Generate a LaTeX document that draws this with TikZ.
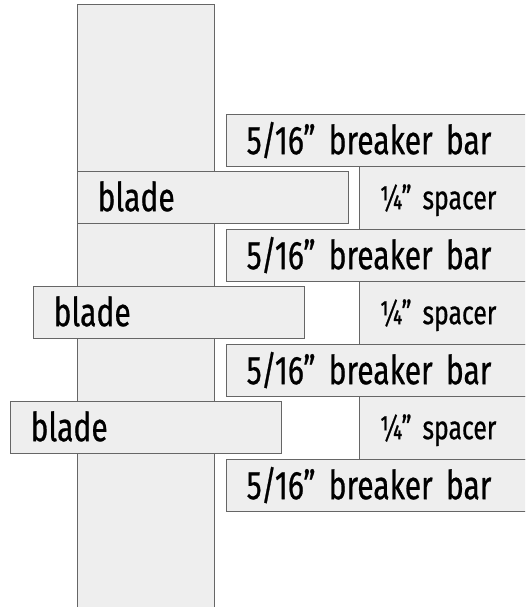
\documentclass[tikz,border=0pt]{standalone}
\usepackage{fontspec}
\setmainfont{Fira Sans}[FakeStretch=0.75, FakeBold=0.6, WordSpace=0.75]
\usepackage{tikz}
\definecolor{partfill}{HTML}{EEEEEE}
\definecolor{partline}{HTML}{666666}

\begin{document}
\begin{tikzpicture}[
  x=1pt, y=-1pt,
  part/.style  ={draw=partline, fill=partfill, line width=1.3pt, anchor=north west,
                 inner xsep=20pt, inner ysep=0pt, align=left, text depth=0pt},
  post/.style  ={part, minimum width=137pt, minimum height=612pt},
  bar/.style   ={part, font=\fontsize{40}{48}\selectfont, text height=27pt,
                 minimum height=52pt, text width=300pt},
  blade/.style ={part, font=\fontsize{40}{48}\selectfont, text height=27pt,
                 minimum height=52pt, text width=231pt},
  spacer/.style={part, font=\fontsize{33}{40}\selectfont, text height=22pt,
                 minimum height=63pt, text width=150pt}
]
\clip (0,0) rectangle (525,607);
\node[post] (post) at (77,4) {};
% spacers sit between the breaker bars
\node[spacer] (sp1) at (359,166) {¼” spacer};
\node[spacer] (sp2) at (359,281) {¼” spacer};
\node[spacer] (sp3) at (359,396) {¼” spacer};
\node[bar] (bar1) at (226,114) {5/16” breaker bar};
\node[bar] (bar2) at (226,229) {5/16” breaker bar};
\node[bar] (bar3) at (226,344) {5/16” breaker bar};
\node[bar] (bar4) at (226,459) {5/16” breaker bar};
% blades, each shifted further left
\node[blade] (blade1) at (77,171) {blade};
\node[blade] (blade2) at (33,286) {blade};
\node[blade] (blade3) at (10,401) {blade};
\end{tikzpicture}
\end{document}
